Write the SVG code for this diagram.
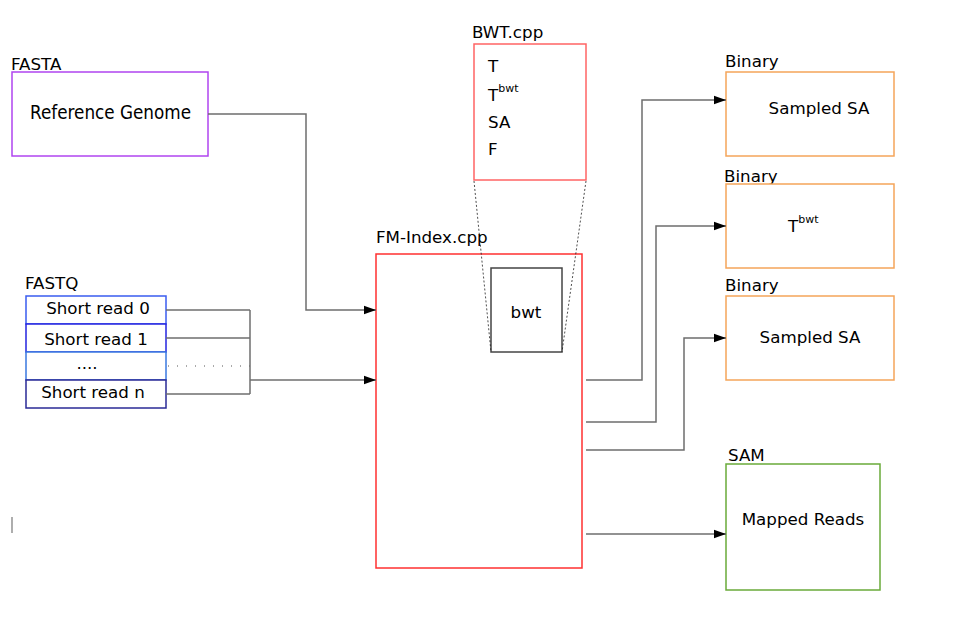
<svg xmlns="http://www.w3.org/2000/svg" width="961" height="617" viewBox="0 0 961 617">
<style>
text{font-family:"DejaVu Sans","Liberation Sans",sans-serif;font-size:16.7px;fill:#000}
.cond{font-size:20px}
.mid{text-anchor:middle}
.sup{font-size:11px}
.box{fill:#fff;stroke-width:1.5}
.conn{fill:none;stroke:#6e6e6e;stroke-width:1.5}
.dot{fill:none;stroke:#555;stroke-width:1;stroke-dasharray:1 8}
.dash{fill:none;stroke:#222;stroke-width:0.8;stroke-dasharray:2 2}
</style>
<defs>
<marker id="arr" viewBox="0 0 12 10" refX="12" refY="5" markerWidth="12" markerHeight="10" markerUnits="userSpaceOnUse" orient="auto">
<path d="M0,0.8 L12,5 L0,9.2 Z" fill="#000"/>
</marker>
</defs>
<rect width="961" height="617" fill="#fff"/>

<g id="ref-genome">
<text x="11" y="70">FASTA</text>
<rect class="box" x="12" y="72" width="196" height="84" stroke="#b044f0"/>
<text class="cond" x="30" y="119" textLength="161" lengthAdjust="spacingAndGlyphs">Reference Genome</text>
</g>

<g id="fastq">
<text x="25" y="289">FASTQ</text>
<rect class="box" x="26" y="296" width="140" height="28" stroke="#3a5cf0"/>
<rect class="box" x="26" y="324" width="140" height="28" stroke="#2424e0"/>
<rect class="box" x="26" y="352" width="140" height="28" stroke="#3a78e0"/>
<rect class="box" x="26" y="380" width="140" height="28" stroke="#2a2a96"/>
<text class="mid" x="98" y="314">Short read 0</text>
<text class="mid" x="96" y="345">Short read 1</text>
<text class="mid" x="87" y="369">....</text>
<text class="mid" x="93" y="398">Short read n</text>
</g>

<g id="bwt-cpp">
<text x="472" y="38">BWT.cpp</text>
<rect class="box" x="474" y="44" width="112" height="136" stroke="#ff6464"/>
<text x="488" y="72">T</text>
<text x="488" y="101">T<tspan class="sup" dy="-9">bwt</tspan></text>
<text x="488" y="128">SA</text>
<text x="488" y="155">F</text>
</g>

<g id="fm-index">
<text x="376" y="243">FM-Index.cpp</text>
<rect class="box" x="376" y="254" width="206" height="314" stroke="#ff3030" fill="none" style="fill:none"/>
</g>

<g id="bwt">
<rect class="box" x="491" y="268" width="71" height="84" stroke="#444"/>
<text class="mid" x="526" y="318">bwt</text>
</g>

<g id="binary-sa1">
<text x="725" y="67">Binary</text>
<rect class="box" x="726" y="72" width="168" height="84" stroke="#f5a55a"/>
<text class="mid" x="819" y="114">Sampled SA</text>
</g>

<g id="binary-tbwt">
<text x="724" y="182">Binary</text>
<rect class="box" x="726" y="184" width="168" height="84" stroke="#f5a55a"/>
<text x="788" y="232">T<tspan class="sup" dy="-9">bwt</tspan></text>
</g>

<g id="binary-sa2">
<text x="725" y="291">Binary</text>
<rect class="box" x="726" y="296" width="168" height="84" stroke="#f5a55a"/>
<text class="mid" x="810" y="343">Sampled SA</text>
</g>

<g id="sam">
<text x="728" y="461">SAM</text>
<rect class="box" x="726" y="464" width="154" height="126" stroke="#6aaa3a"/>
<text class="mid" x="803" y="525">Mapped Reads</text>
</g>

<g id="connectors">
<polyline class="conn" points="208,114 306,114 306,310 376,310" marker-end="url(#arr)"/>
<line class="conn" x1="166" y1="310" x2="250" y2="310"/>
<line class="conn" x1="166" y1="338" x2="250" y2="338"/>
<line class="dot" x1="168" y1="366" x2="250" y2="366"/>
<line class="conn" x1="166" y1="394" x2="250" y2="394"/>
<line class="conn" x1="250" y1="310" x2="250" y2="394"/>
<line class="conn" x1="250" y1="380" x2="376" y2="380" marker-end="url(#arr)"/>
<polyline class="conn" points="586,380 642,380 642,100 726,100" marker-end="url(#arr)"/>
<polyline class="conn" points="586,422 656,422 656,226 726,226" marker-end="url(#arr)"/>
<polyline class="conn" points="586,450 684,450 684,338 726,338" marker-end="url(#arr)"/>
<line class="conn" x1="586" y1="534" x2="726" y2="534" marker-end="url(#arr)"/>
<line class="dash" x1="474" y1="181" x2="491" y2="352"/>
<line class="dash" x1="586" y1="181" x2="562" y2="352"/>
</g>

<line x1="12" y1="517" x2="12" y2="533" stroke="#777" stroke-width="1.2"/>
</svg>
